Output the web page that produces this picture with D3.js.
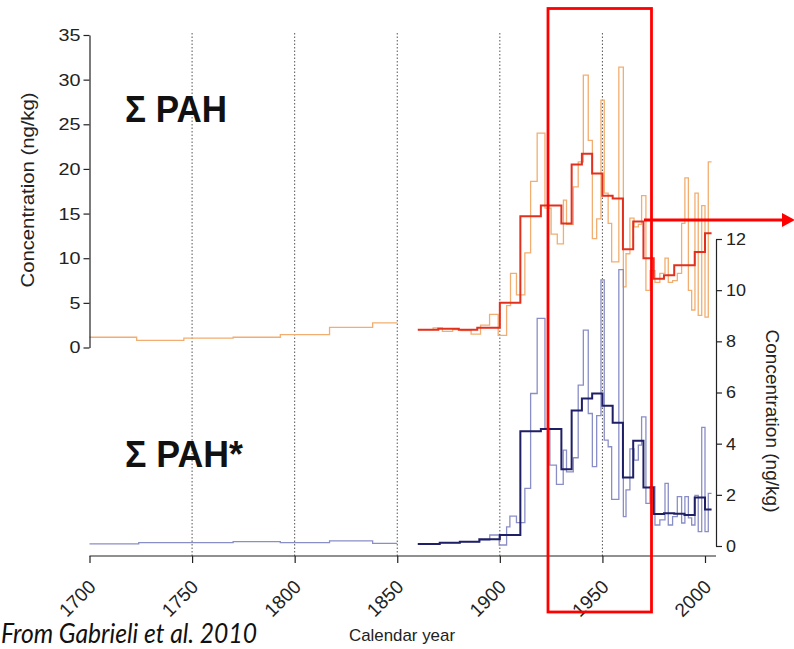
<!DOCTYPE html>
<html>
<head>
<meta charset="utf-8">
<script src="https://cdn.jsdelivr.net/npm/d3@7"></script>
<style>
body { margin: 0; background: #fff; }
svg { display: block; font-family: "Liberation Sans", Arial, sans-serif; }
</style>
</head>
<body>
<div id="chart"></div>
<script>
// step series as [year, value]; the last pair just closes the final step

// sum PAH (left axis, ng/kg)
const pahEarly = [[1700,1.15],[1723,0.8],[1746,1.05],[1770,1.15],[1793,1.45],[1817,2.25],[1838,2.75],[1850,2.75]];
const pahAnnual = [[1860.2,2.0],[1867.5,2.2],[1872,1.8],[1877,2.0],[1881,1.9],[1886,1.5],[1890.6,2.5],[1895,3.7],
  [1899.2,1.35],[1903.3,4.7],[1905.2,8.3],[1908.1,5.9],[1912.2,10.6],[1915,18.6],[1918.2,24.0],[1922,15.6],
  [1925,12.7],[1928,11.6],[1931,16.5],[1932.5,13.8],[1935.8,18.0],[1938.2,20.8],[1940.7,30.5],[1943.1,23.2],
  [1945.1,12.2],[1947.2,14.4],[1949.3,27.7],[1950.9,17.3],[1952.8,13.9],[1954.5,9.6],[1958,31.4],[1960.2,6.8],
  [1961.5,10.5],[1963.4,14.5],[1965.4,13.5],[1967.5,13.8],[1969.1,17.0],[1971.2,6.4],[1973.2,8.6],[1975.6,7.3],
  [1978,8.3],[1980.5,10.0],[1982.1,7.3],[1984.2,7.5],[1986.5,8.3],[1988.6,13.9],[1990.2,19.0],[1991.9,6.4],
  [1993.5,4.2],[1995.1,17.3],[1996.7,3.6],[1998.4,15.9],[2000,3.4],[2001.6,20.8],[2003.2,20.8]];
const pahSmooth = [[1860,2.0],[1870,2.1],[1880,2.0],[1889,2.2],[1900,5.0],[1910,14.7],[1920,15.9],[1930,13.9],
  [1935,20.5],[1940,21.7],[1945,19.5],[1950,17.0],[1955,16.7],[1960,11.0],[1965,14.1],[1970,10.0],[1975,7.7],
  [1980,8.1],[1985,9.2],[1995,10.7],[2000,12.8],[2003.2,12.8]];

// sum PAH* (right axis, ng/kg)
const pahStarEarly = [[1700,0.08],[1724,0.13],[1770,0.17],[1793,0.13],[1817,0.2],[1838,0.1],[1850,0.1]];
const pahStarAnnual = [[1860.2,0.08],[1870.7,0.13],[1880.5,0.17],[1890.2,0.23],[1895.1,0.43],[1899.7,0.04],
  [1903.3,0.75],[1904.9,1.17],[1908.1,0.91],[1912.2,2.25],[1915,5.96],[1918.2,8.9],[1922,4.6],[1924.4,3.16],
  [1927.6,2.41],[1930.9,3.75],[1932.5,2.9],[1935.8,3.45],[1938.2,6.29],[1940.7,8.44],[1943.1,5.18],[1945.1,3.1],
  [1947.2,5.1],[1949.3,10.4],[1950.9,4.14],[1952.8,3.88],[1954.5,1.82],[1958,10.8],[1960.2,1.15],[1961.5,2.19],
  [1963.4,3.8],[1965.4,3.36],[1967.5,3.94],[1969.1,5.05],[1971.2,1.67],[1973.2,2.32],[1975.6,0.82],[1978,1.02],
  [1980.5,2.45],[1982.1,0.82],[1984.2,1.15],[1986.5,1.93],[1988.6,0.9],[1990.2,1.93],[1991.9,1.1],[1993.5,0.82],
  [1995.1,1.98],[1996.7,0.56],[1998.4,4.64],[2000,0.56],[2001.6,2.06],[2003.2,2.06]];
const pahStarSmooth = [[1860,0.08],[1870.7,0.13],[1880.5,0.17],[1890,0.26],[1900,0.43],[1910,4.49],[1920,4.57],
  [1930,3.0],[1935,5.3],[1940,5.77],[1945,5.96],[1950,5.48],[1955,4.82],[1960,2.68],[1965,4.11],[1970,2.29],
  [1975,1.25],[1980,1.28],[1985,1.26],[1990,1.21],[1995,1.9],[2000,1.43],[2003.2,1.43]];

const xTicks = [1700,1750,1800,1850,1900,1950,2000];
const guideYears = [1750,1800,1850,1900,1950];
const leftTicks = [0,5,10,15,20,25,30,35];
const rightTicks = [0,2,4,6,8,10,12];

const w = 794, h = 649;

const svg = d3.select("#chart").append("svg")
  .attr("width", w).attr("height", h);

const x = d3.scaleLinear().domain([1700, 2000]).range([89.5, 705]);
const yL = d3.scaleLinear().domain([0, 35]).range([347.5, 35]);
const yR = d3.scaleLinear().domain([0, 12]).range([546, 239]);
const axisY = 556;
const axisEnd = 716;

// dotted guides
svg.selectAll(".guide").data(guideYears).enter()
  .append("line")
  .attr("x1", d => x(d)).attr("x2", d => x(d))
  .attr("y1", 33).attr("y2", axisY)
  .style("stroke", "#555").style("stroke-width", 1)
  .style("stroke-dasharray", "1.5,2");

// lines
const stepL = d3.line().x(d => x(d[0])).y(d => yL(d[1])).curve(d3.curveStepAfter);
const stepR = d3.line().x(d => x(d[0])).y(d => yR(d[1])).curve(d3.curveStepAfter);

function drawLine(data, gen, color, width) {
  svg.append("path").datum(data)
    .attr("d", gen)
    .style("fill", "none").style("stroke", color)
    .style("stroke-width", width).style("stroke-linejoin", "miter");
}

drawLine(pahEarly, stepL, "#f2ae70", 1.3);
drawLine(pahAnnual, stepL, "#f2ae70", 1.3);
drawLine(pahSmooth, stepL, "#e2301f", 2);
drawLine(pahStarEarly, stepR, "#8a8ec6", 1.3);
drawLine(pahStarAnnual, stepR, "#8a8ec6", 1.3);
drawLine(pahStarSmooth, stepR, "#1f1f66", 2);

// axes
const textColor = "#222";

const gx = svg.append("g").attr("transform", `translate(0,${axisY})`);
gx.call(d3.axisBottom(x).tickValues(d3.range(1700, 2001, 10)).tickSize(4).tickFormat(""));
gx.call(d3.axisBottom(x).tickValues(xTicks).tickSize(7).tickFormat(d3.format("d")));
gx.selectAll(".domain").remove();
gx.append("line").attr("x1", 89.5).attr("x2", axisEnd).attr("y1", 0).attr("y2", 0);
gx.selectAll("line").style("stroke", "#222").style("stroke-width", 1.2);
gx.selectAll("text")
  .style("font-size", "19px").style("fill", textColor)
  .attr("text-anchor", "end")
  .attr("transform", "translate(7,32) rotate(-45)")
  .attr("x", 0).attr("y", 0).attr("dy", 0);

const gl = svg.append("g").attr("transform", "translate(89.5,0)");
gl.call(d3.axisLeft(yL).tickValues(d3.range(0, 35.1, 2.5)).tickSize(3).tickFormat(""));
gl.call(d3.axisLeft(yL).tickValues(leftTicks).tickSize(6).tickSizeOuter(0).tickPadding(3));
gl.selectAll("line, path").style("stroke", "#222").style("stroke-width", 1.2);
gl.selectAll("text").style("font-size", "17px").style("fill", textColor)
  .attr("textLength", d => String(d).length * 11).attr("lengthAdjust", "spacingAndGlyphs");

const gr = svg.append("g").attr("transform", `translate(${axisEnd},0)`);
gr.call(d3.axisRight(yR).tickValues(d3.range(0, 12.1, 1)).tickSize(3).tickFormat(""));
gr.call(d3.axisRight(yR).tickValues(rightTicks).tickSize(6).tickSizeOuter(0).tickPadding(4));
gr.selectAll("line, path").style("stroke", "#222").style("stroke-width", 1.2);
gr.selectAll("text").style("font-size", "17px").style("fill", textColor)
  .attr("textLength", d => String(d).length * 10).attr("lengthAdjust", "spacingAndGlyphs");

// axis titles
svg.append("text")
  .attr("transform", "translate(34,190) rotate(-90)")
  .attr("text-anchor", "middle")
  .attr("textLength", 195).attr("lengthAdjust", "spacingAndGlyphs")
  .style("font-size", "18px").style("fill", textColor)
  .text("Concentration (ng/kg)");

svg.append("text")
  .attr("transform", "translate(766,421) rotate(90)")
  .attr("text-anchor", "middle")
  .attr("textLength", 183).attr("lengthAdjust", "spacingAndGlyphs")
  .style("font-size", "18px").style("fill", textColor)
  .text("Concentration (ng/kg)");

svg.append("text")
  .attr("x", 402).attr("y", 641)
  .attr("text-anchor", "middle")
  .attr("textLength", 106).attr("lengthAdjust", "spacingAndGlyphs")
  .style("font-size", "17px").style("fill", textColor)
  .text("Calendar year");

// series labels
svg.append("text")
  .attr("x", 125).attr("y", 122)
  .attr("textLength", 102).attr("lengthAdjust", "spacingAndGlyphs")
  .style("font-size", "37px").style("font-weight", "bold").style("fill", "#111")
  .text("Σ PAH");

svg.append("text")
  .attr("x", 125).attr("y", 467)
  .attr("textLength", 118).attr("lengthAdjust", "spacingAndGlyphs")
  .style("font-size", "37px").style("font-weight", "bold").style("fill", "#111")
  .text("Σ PAH*");

// source note
svg.append("text")
  .attr("x", 1).attr("y", 643)
  .attr("textLength", 256).attr("lengthAdjust", "spacingAndGlyphs")
  .style("font-family", "Lato, 'Open Sans', sans-serif")
  .style("font-style", "italic").style("font-size", "27px").style("fill", "#111")
  .text("From Gabrieli et al. 2010");

// highlight box and arrow
svg.append("rect")
  .attr("x", 548).attr("y", 8.5)
  .attr("width", 103.5).attr("height", 603.5)
  .style("fill", "none").style("stroke", "#ff0000").style("stroke-width", 2.8);

svg.append("line")
  .attr("x1", 644).attr("x2", 784).attr("y1", 220).attr("y2", 220)
  .style("stroke", "#ff0000").style("stroke-width", 2.8);
svg.append("path")
  .attr("d", "M782,213L795,220L782,227Z")
  .style("fill", "#ff0000");
</script>
</body>
</html>
